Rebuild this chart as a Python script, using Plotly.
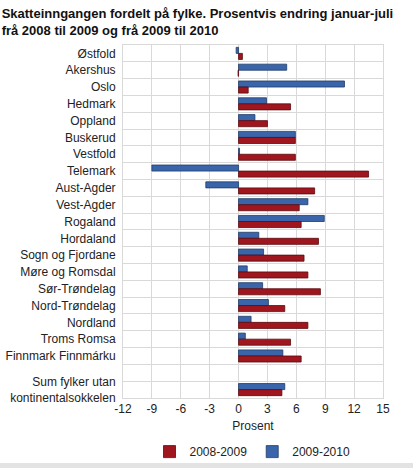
import plotly.graph_objects as go

# Fylke (county) labels, top to bottom; " " is the empty spacer row
fylker = [
    "Østfold", "Akershus", "Oslo", "Hedmark", "Oppland", "Buskerud",
    "Vestfold", "Telemark", "Aust-Agder", "Vest-Agder", "Rogaland",
    "Hordaland", "Sogn og Fjordane", "Møre og Romsdal", "Sør-Trøndelag",
    "Nord-Trøndelag", "Nordland", "Troms Romsa", "Finnmark Finnmárku",
    " ", "Sum fylker utan<br>kontinentalsokkelen",
]

endring_2008_2009 = [
    0.4, -0.05, 1.0, 5.4, 3.0, 5.9, 5.9, 13.5, 7.9, 6.3, 6.5,
    8.3, 6.8, 7.2, 8.5, 4.8, 7.2, 5.4, 6.5, None, 4.5,
]
endring_2009_2010 = [
    -0.25, 5.0, 11.0, 2.9, 1.7, 5.9, 0.1, -9.0, -3.4, 7.2, 8.9,
    2.1, 2.6, 0.9, 2.5, 3.1, 1.3, 0.7, 4.6, None, 4.8,
]

x_ticks = [-12, -9, -6, -3, 0, 3, 6, 9, 12, 15]

RED = "#a0161f"
BLUE = "#3a65ab"
GRID = "#d9d9d9"

fig = go.Figure()

# blue first so it sits on top within each group (y axis reversed)
fig.add_trace(go.Bar(
    y=fylker, x=endring_2009_2010, orientation="h", name="2009-2010",
    marker=dict(color=BLUE, line=dict(color="#1f3b66", width=0.8)),
    legendrank=2,
))
fig.add_trace(go.Bar(
    y=fylker, x=endring_2008_2009, orientation="h", name="2008-2009",
    marker=dict(color=RED, line=dict(color="#5a0a0e", width=0.8)),
    legendrank=1,
))

fig.update_layout(
    width=413, height=468,
    margin=dict(l=123, r=30, t=45, b=70, autoexpand=False),
    paper_bgcolor="white", plot_bgcolor="white",
    font=dict(family="Liberation Sans, Arial, sans-serif", size=12, color="#222"),
    title=dict(
        text="<b>Skatteinngangen fordelt på fylke. Prosentvis endring januar-juli<br>frå 2008 til 2009 og frå 2009 til 2010</b>",
        x=0.004, xanchor="left", xref="container",
        y=0.962, yanchor="top", yref="container",
        font=dict(size=13, color="#111"),
    ),
    barmode="group", bargap=0.28, bargroupgap=0,
    showlegend=True,
    legend=dict(
        orientation="h", xref="container", yref="container",
        x=0.362, xanchor="left", y=0.035, yanchor="middle",
        bgcolor="rgba(0,0,0,0)",
        font=dict(size=12), itemwidth=30, traceorder="normal",
    ),
)

fig.update_xaxes(
    range=[-12, 15], tickvals=x_ticks, ticktext=[str(t) for t in x_ticks],
    showgrid=True, gridcolor=GRID, gridwidth=1,
    zeroline=True, zerolinecolor=GRID, zerolinewidth=1,
    showline=True, linecolor=GRID, mirror=True, automargin=False,
    ticks="", tickfont=dict(size=12),
    title=dict(text="Prosent", font=dict(size=12), standoff=6),
)
fig.update_yaxes(
    categoryorder="array", categoryarray=fylker, autorange="reversed",
    tickson="boundaries", showgrid=True, gridcolor=GRID, gridwidth=1,
    showline=True, linecolor=GRID, mirror=True, automargin=False,
    ticks="", ticklabelstandoff=4, tickfont=dict(size=12),
)

# thin grey strip along the bottom edge of the image
fig.add_shape(
    type="rect", xref="paper", yref="paper",
    x0=-0.5, x1=1.2, y0=-0.184, y1=-0.25,
    fillcolor="#e3e3e3", line=dict(width=0), layer="below",
)

fig.write_html(
    "out.html",
    config={"displayModeBar": False},
    post_script="document.body.style.margin='0';",
)
